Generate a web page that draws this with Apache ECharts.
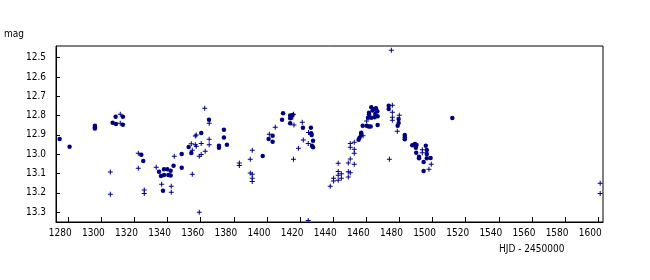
<!DOCTYPE html>
<html>
<head>
<meta charset="utf-8">
<script src="https://cdn.jsdelivr.net/npm/echarts@6/dist/echarts.min.js"></script>
<style>html,body{margin:0;padding:0;background:#fff}#c{width:650px;height:280px}</style>
</head>
<body>
<div id="c"></div>
<script>
// Tick labels
const xTicks = [1280,1300,1320,1340,1360,1380,1400,1420,1440,1460,1480,1500,1520,1540,1560,1580,1600];
const yTicks = [12.5,12.6,12.7,12.8,12.9,13.0,13.1,13.2,13.3];

// Filled-dot observations (HJD - 2450000, mag)
const dotHJD = [1274.8,1280.8,1296.1,1296.1,1296.1,1306.8,1308.6,1308.8,1313.0,1313.0,1324.1,1325.3,1334.8,1336.0,1337.8,1337.8,1339.8,1340.4,1341.8,1341.8,1337.2,1343.6,1348.5,1348.5,1352.7,1354.3,1360.3,1365.0,1374.0,1374.0,1371.0,1371.0,1375.8,1397.4,1401.0,1403.4,1403.4,1409.7,1409.1,1414.0,1414.0,1415.5,1414.7,1414.0,1421.7,1426.5,1426.7,1427.0,1427.8,1427.2,1427.8,1455.3,1455.9,1456.9,1456.8,1457.8,1460.2,1461.4,1462.6,1461.0,1463.0,1465.0,1466.8,1461.6,1461.6,1463.0,1464.4,1465.8,1466.6,1465.4,1466.8,1463.8,1473.5,1473.5,1479.5,1479.5,1478.9,1483.2,1483.2,1483.2,1487.7,1489.3,1490.3,1489.9,1490.1,1491.8,1491.8,1495.9,1496.5,1496.5,1496.5,1498.8,1494.6,1494.6,1511.9];
const dotMag = [12.921,12.961,12.852,12.860,12.867,12.837,12.806,12.844,12.806,12.847,13.003,13.035,13.091,13.113,13.078,13.108,13.078,13.108,13.086,13.111,13.189,13.060,12.999,13.070,12.963,12.994,12.890,12.821,12.873,12.914,12.956,12.966,12.951,13.009,12.921,12.904,12.935,12.788,12.821,12.800,12.814,12.797,12.811,12.840,12.863,12.863,12.892,12.900,12.930,12.956,12.964,12.925,12.915,12.889,12.900,12.852,12.852,12.857,12.857,12.811,12.811,12.809,12.804,12.785,12.793,12.757,12.767,12.762,12.778,12.792,12.849,12.773,12.749,12.766,12.818,12.838,12.852,12.900,12.912,12.923,12.954,12.947,12.952,12.966,12.992,13.013,13.021,12.956,12.978,12.999,13.021,13.020,13.040,13.087,12.812];

// Cross observations (HJD - 2450000, mag)
const crossHJD = [1305.4,1305.4,1311.4,1311.4,1322.3,1322.3,1325.9,1325.9,1333.1,1336.4,1342.2,1342.2,1344.0,1354.9,1354.3,1354.9,1356.7,1357.3,1356.7,1357.3,1360.3,1359.1,1360.3,1362.7,1359.1,1362.4,1365.1,1365.1,1365.1,1383.3,1383.3,1389.9,1391.1,1389.9,1391.1,1391.1,1391.1,1401.4,1405.0,1416.0,1416.3,1416.0,1419.0,1421.3,1421.9,1424.9,1425.1,1424.9,1438.2,1440.2,1440.2,1443.0,1443.0,1443.0,1443.0,1444.9,1444.9,1449.1,1449.1,1450.3,1449.1,1450.3,1450.3,1450.3,1452.7,1452.7,1452.7,1452.7,1458.0,1460.2,1475.1,1475.7,1475.7,1475.7,1475.7,1479.9,1478.7,1473.9,1493.8,1493.8,1499.2,1497.8,1601.2,1601.2];
const crossMag = [13.092,13.208,12.793,12.840,12.995,13.073,13.185,13.203,13.068,13.156,13.166,13.197,13.011,13.104,12.946,12.980,12.906,12.901,12.951,12.959,12.944,13.011,13.001,12.985,13.301,12.762,12.840,12.923,12.951,13.046,13.058,13.026,12.980,13.097,13.104,13.125,13.142,12.897,12.861,12.793,12.849,13.026,12.969,12.835,12.926,12.944,12.887,13.343,13.166,13.125,13.139,13.047,13.089,13.109,13.135,13.101,13.125,13.046,13.091,13.096,13.118,13.025,12.944,12.964,12.938,12.975,12.995,13.052,12.904,12.828,12.462,12.747,12.783,12.809,12.824,12.798,12.881,13.026,12.977,12.992,13.052,13.078,13.151,13.203];

const FONT = '"DejaVu Sans Condensed", "DejaVu Sans", sans-serif';
const COLOR = '#000080';
const zip = (a, b) => a.map((v, i) => [v, b[i]]);

const chart = echarts.init(document.getElementById('c'), null, {renderer: 'canvas'});
chart.setOption({
  animation: false,
  backgroundColor: '#fff',
  grid: {left: 56, right: 47, top: 46, bottom: 58, show: true, borderColor: '#000', borderWidth: 1, backgroundColor: 'transparent'},
  xAxis: {
    type: 'value', min: 1272.6, max: 1602.9,
    axisLine: {show: true, lineStyle: {color: '#000', width: 1}},
    axisTick: {show: true, inside: true, length: 5, lineStyle: {color: '#000'}, customValues: xTicks},
    axisLabel: {customValues: xTicks, color: '#000', fontFamily: FONT, fontSize: 10, margin: 6, padding: [0, 16, 0, 0], formatter: v => String(Math.round(v))},
    splitLine: {show: false}
  },
  yAxis: {
    type: 'value', inverse: true, min: 12.4394, max: 13.3513,
    axisLine: {show: true, lineStyle: {color: '#000', width: 1}},
    axisTick: {show: true, inside: true, length: 4, lineStyle: {color: '#000'}, customValues: yTicks},
    axisLabel: {customValues: yTicks, color: '#000', fontFamily: FONT, fontSize: 10, margin: 10, formatter: v => v.toFixed(1)},
    splitLine: {show: false}
  },
  graphic: [
    {type: 'text', left: 4, top: 29, style: {text: 'mag', fill: '#000', font: '10px ' + FONT}},
    {type: 'text', left: 499, top: 244, style: {text: 'HJD - 2450000', fill: '#000', font: '10px ' + FONT}}
  ],
  series: [
    {type: 'scatter', data: zip(crossHJD, crossMag), symbol: 'path://M2,0H3V2H5V3H3V5H2V3H0V2H2Z', symbolSize: 5, itemStyle: {color: COLOR, opacity: 1}},
    {type: 'scatter', data: zip(dotHJD, dotMag), symbol: 'circle', symbolSize: 4.5, itemStyle: {color: COLOR, opacity: 1}}
  ]
});
</script>
</body>
</html>
